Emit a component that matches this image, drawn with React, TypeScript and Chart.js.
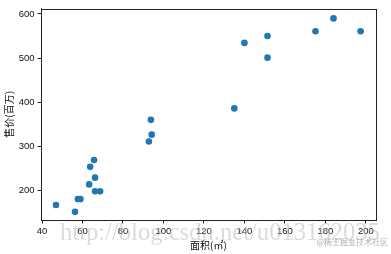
import React, { useEffect, useRef } from "react";
import { Chart, registerables } from "chart.js";

Chart.register(...registerables);

const areaValues = [140, 151.4, 151.4, 175.1, 184, 197.4, 135, 93.8, 94.2, 92.8, 65.7, 63.8, 66.2, 63.3, 66.2, 68.7, 57.7, 59, 46.9, 56.3];
const priceValues = [534.5, 550, 501, 561, 590, 561, 386, 360, 326.5, 311, 269, 253.5, 229, 213.7, 198.2, 198, 180.4, 180.4, 167, 151.5];
const xTicks = [40, 60, 80, 100, 120, 140, 160, 180, 200];
const yTicks = [200, 300, 400, 500, 600];
const xTitle = "面积(㎡)";
const yTitle = "售价(百万)";
const watermark1 = "http://blog.csdn.net/u013162035";
const watermark2 = "@稀土掘金技术社区";

const overlay = {
  id: "overlay",
  afterDraw(chart: any) {
    const { ctx, chartArea: a } = chart;
    ctx.save();
    ctx.strokeStyle = "#222";
    ctx.lineWidth = 1;
    ctx.strokeRect(Math.round(a.left) + 0.5, Math.round(a.top) + 0.5, Math.round(a.right - a.left), Math.round(a.bottom - a.top));
    ctx.fillStyle = "#111";
    ctx.font = '10px "Noto Sans CJK SC"';
    ctx.textAlign = "center";
    ctx.textBaseline = "middle";
    ctx.fillText(xTitle, (a.left + a.right) / 2, 245);
    ctx.translate(9, (a.top + a.bottom) / 2);
    ctx.rotate(-Math.PI / 2);
    ctx.fillText(yTitle, 0, 0);
    ctx.restore();

    ctx.save();
    ctx.font = '20px "Liberation Serif"';
    const w = ctx.measureText(watermark1).width;
    const size = (20 * 320) / w;
    ctx.font = `${size}px "Liberation Serif"`;
    ctx.fillStyle = "rgba(190,190,190,0.55)";
    ctx.textAlign = "left";
    ctx.textBaseline = "alphabetic";
    ctx.fillText(watermark1, 60, 240);
    ctx.font = '8px "Noto Sans CJK SC"';
    ctx.fillStyle = "rgba(170,170,170,0.9)";
    ctx.textAlign = "right";
    ctx.textBaseline = "middle";
    ctx.fillText(watermark2, 388, 242);
    ctx.restore();
  },
};

export default function App() {
  const ref = useRef<HTMLCanvasElement>(null);
  useEffect(() => {
    document.body.style.margin = "0";
    const canvas = ref.current!;
    const chart = new Chart(canvas, {
      type: "scatter",
      data: {
        datasets: [
          {
            data: areaValues.map((x, i) => ({ x, y: priceValues[i] })),
            backgroundColor: "#1f77b4",
            borderColor: "#1f77b4",
            pointRadius: 3.3,
            borderWidth: 0,
          },
        ],
      },
      options: {
        animation: false,
        responsive: false,
        devicePixelRatio: 1,
        layout: { padding: { left: 0, right: 15, top: 3, bottom: 0 } },
        plugins: { legend: { display: false }, tooltip: { enabled: false } },
        scales: {
          x: {
            type: "linear",
            min: 39.5,
            max: 205,
            afterBuildTicks: (s: any) => {
              s.ticks = xTicks.map((v) => ({ value: v }));
            },
            afterFit: (s: any) => {
              s.height = 34;
            },
            grid: { drawOnChartArea: false, drawTicks: true, tickLength: 3.5, color: "#222" },
            border: { display: true, color: "#222" },
            ticks: { color: "#111", font: { family: '"Liberation Sans"', size: 9.5 }, padding: 2, maxRotation: 0, autoSkip: false },
          },
          y: {
            type: "linear",
            min: 133,
            max: 612,
            afterBuildTicks: (s: any) => {
              s.ticks = yTicks.map((v) => ({ value: v }));
            },
            afterFit: (s: any) => {
              s.width = 41;
            },
            grid: { drawOnChartArea: false, drawTicks: true, tickLength: 3.5, color: "#222" },
            border: { display: true, color: "#222" },
            ticks: { color: "#111", font: { family: '"Liberation Sans"', size: 9.5 }, padding: 3, autoSkip: false },
          },
        },
      },
      plugins: [overlay],
    });
    return () => chart.destroy();
  }, []);
  return (
    <div style={{ width: 391, height: 254 }}>
      <canvas ref={ref} width={391} height={254} style={{ width: 391, height: 254, display: "block" }} />
    </div>
  );
}
